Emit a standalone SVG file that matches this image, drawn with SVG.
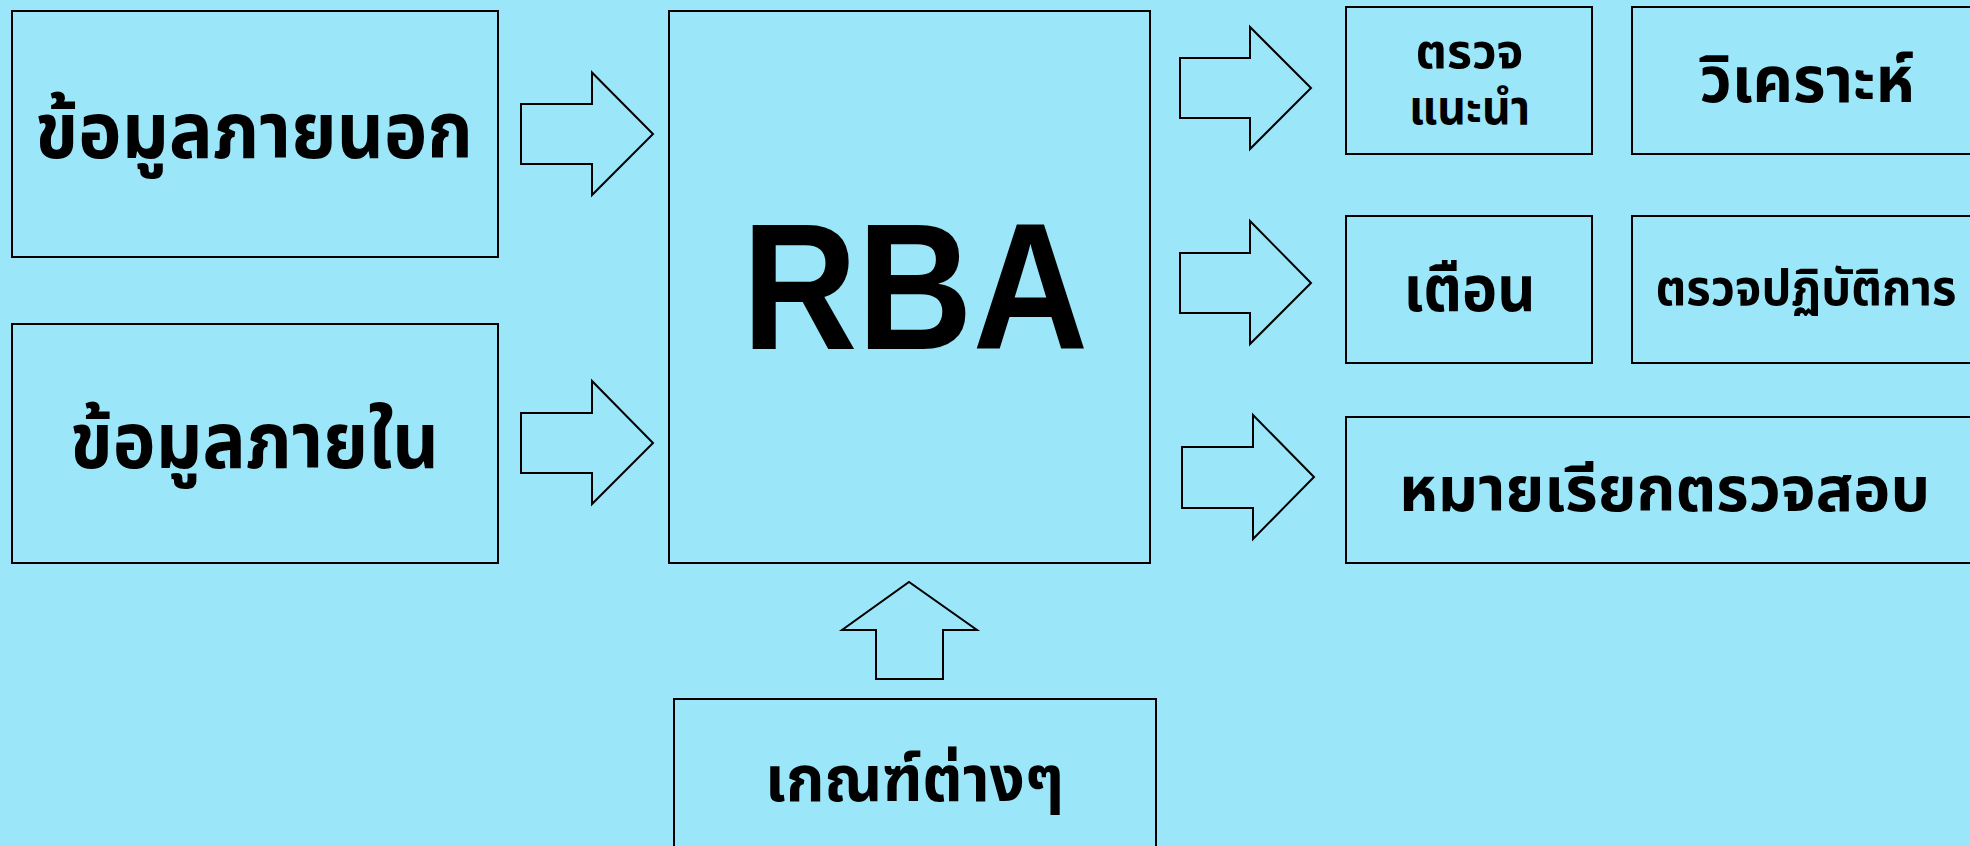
<svg xmlns="http://www.w3.org/2000/svg" width="1970" height="846" viewBox="0 0 1970 846">
<style>
.box{fill:none;stroke:#000;stroke-width:2}
.arr{fill:none;stroke:#000;stroke-width:2;stroke-linejoin:miter}
.th{font-family:"Noto Sans Thai","Noto Sans",sans-serif;font-weight:bold;fill:#000;text-anchor:middle}
.en{font-family:"Liberation Sans",Arial,sans-serif;font-weight:bold;fill:#000;text-anchor:middle}
</style>
<rect x="0" y="0" width="1970" height="846" fill="#9ce6f9"/>
<g id="ext"><rect class="box" x="12" y="11" width="486" height="246"/><text class="th" x="254" y="158" font-size="78" textLength="438" lengthAdjust="spacingAndGlyphs">ข้อมูลภายนอก</text></g>
<g id="int"><rect class="box" x="12" y="324" width="486" height="239"/><text class="th" x="254.5" y="468" font-size="78" textLength="369" lengthAdjust="spacingAndGlyphs">ข้อมูลภายใน</text></g>
<g id="rba"><rect class="box" x="669" y="11" width="481" height="552"/><text class="en" x="915" y="349" font-size="180" textLength="346" lengthAdjust="spacingAndGlyphs">RBA</text></g>
<g id="criteria"><rect class="box" x="674" y="699" width="482" height="160"/><text class="th" x="914.5" y="801" font-size="64" textLength="299" lengthAdjust="spacingAndGlyphs">เกณฑ์ต่างๆ</text></g>
<g id="advise"><rect class="box" x="1346" y="7" width="246" height="147"/><text class="th" font-size="48"><tspan x="1469.5" y="68" textLength="108" lengthAdjust="spacingAndGlyphs">ตรวจ</tspan><tspan x="1469.5" y="124" textLength="121" lengthAdjust="spacingAndGlyphs">แนะนำ</tspan></text></g>
<g id="analyze"><rect class="box" x="1632" y="7" width="360" height="147"/><text class="th" x="1807" y="102" font-size="64" textLength="215" lengthAdjust="spacingAndGlyphs">วิเคราะห์</text></g>
<g id="warn"><rect class="box" x="1346" y="216" width="246" height="147"/><text class="th" x="1469.5" y="311" font-size="64" textLength="132" lengthAdjust="spacingAndGlyphs">เตือน</text></g>
<g id="ops"><rect class="box" x="1632" y="216" width="360" height="147"/><text class="th" x="1806" y="305" font-size="50" textLength="301" lengthAdjust="spacingAndGlyphs">ตรวจปฏิบัติการ</text></g>
<g id="summon"><rect class="box" x="1346" y="417" width="646" height="146"/><text class="th" x="1664.5" y="511" font-size="62" textLength="531" lengthAdjust="spacingAndGlyphs">หมายเรียกตรวจสอบ</text></g>
<g id="connectors">
<path class="arr" d="M521,104 H592 V72.5 L653,134 L592,195 V164 H521 Z"/>
<path class="arr" d="M521,413 H592 V381 L653,443 L592,504 V473 H521 Z"/>
<path class="arr" d="M1180,58 H1250 V27 L1311,88 L1250,149 V118 H1180 Z"/>
<path class="arr" d="M1180,253 H1250 V221 L1311,283 L1250,344 V313 H1180 Z"/>
<path class="arr" d="M1182,447 H1253 V415 L1314,477 L1253,539 V508 H1182 Z"/>
<path class="arr" d="M876,679 V630 H842 L909,582 L977,630 H943 V679 Z"/>
</g>
</svg>
